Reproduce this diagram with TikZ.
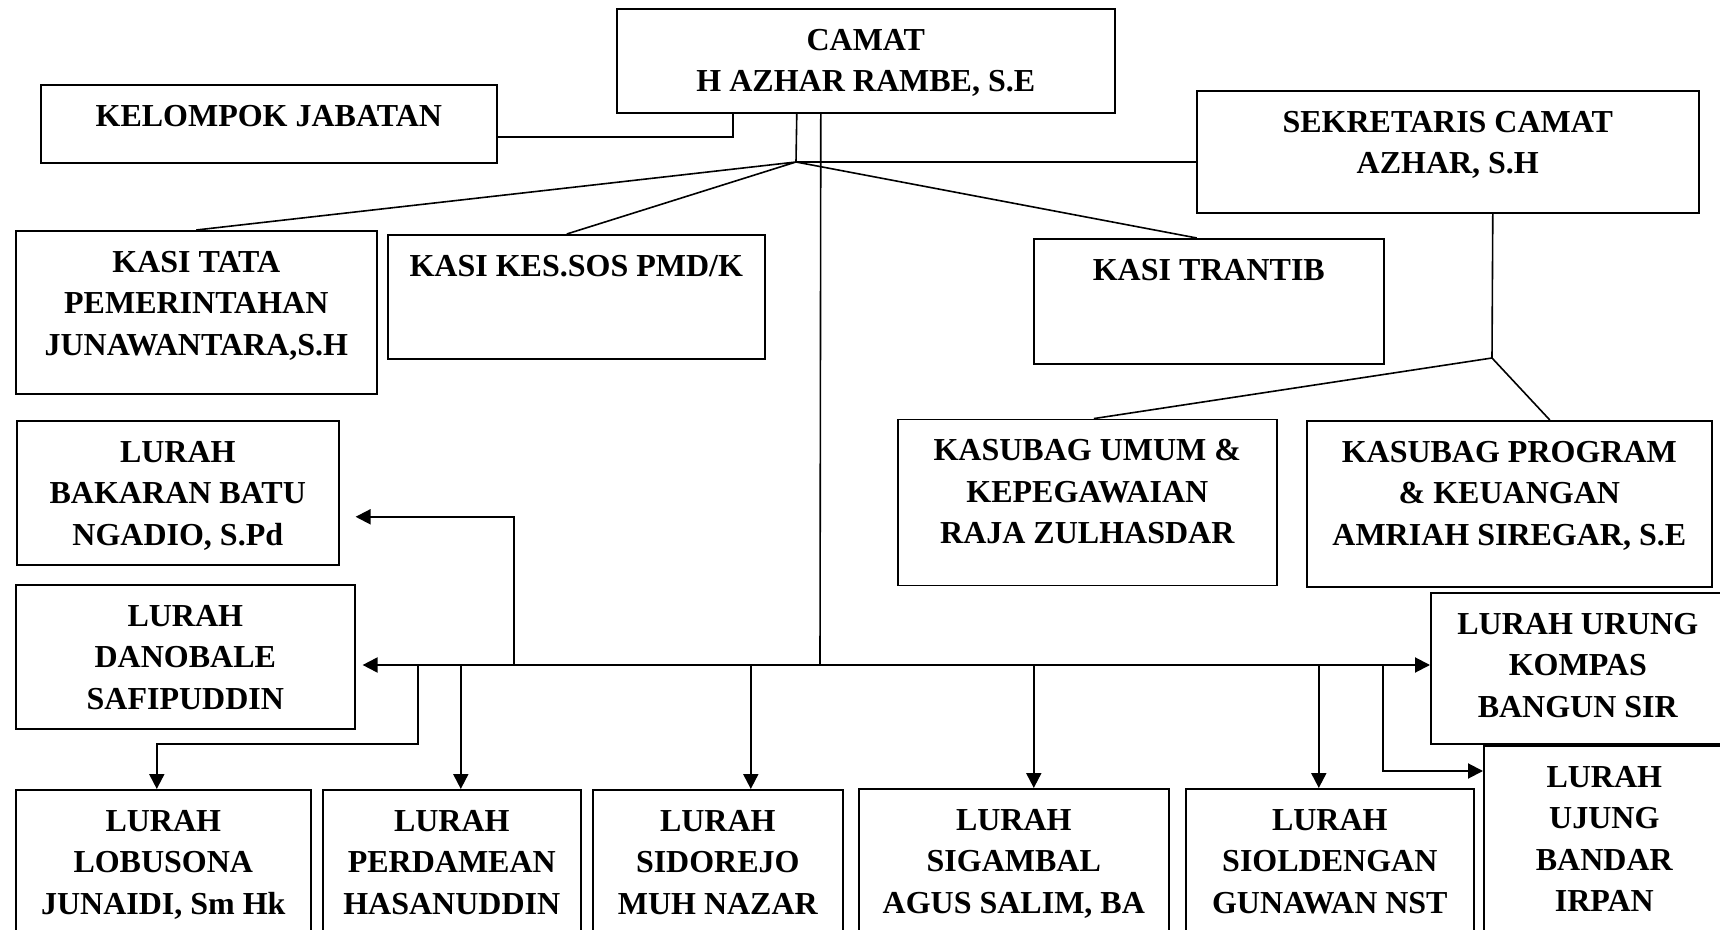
\documentclass[tikz,border=0pt]{standalone}
\usepackage{fontspec}
\setmainfont{Liberation Serif}
\usetikzlibrary{arrows.meta,positioning}

\tikzset{
  box/.style={draw,line width=0.8pt,anchor=north west,inner sep=0pt},
  boxtext/.style={anchor=north,yshift=-10.25pt,inner sep=0pt,align=center,
    font=\bfseries\fontsize{16}{20.75}\selectfont},
  link/.style={line width=0.8pt},
  arr/.style={line width=1pt,-{Triangle[length=7.5pt,width=7.5pt]}},
}

\begin{document}
\begin{tikzpicture}[x=1pt,y=-1pt]
  \useasboundingbox (0,0) rectangle (860,465);

  % pimpinan
  \node[box,minimum width=249pt,minimum height=52pt,label={[boxtext]north:{CAMAT\\H AZHAR RAMBE, S.E}}] (camat) at (308,4) {};
  \node[box,minimum width=228pt,minimum height=39pt,label={[boxtext]north:{KELOMPOK JABATAN}}] (kelompok) at (20,42) {};
  \node[box,minimum width=251pt,minimum height=61pt,label={[boxtext]north:{SEKRETARIS CAMAT\\AZHAR, S.H}}] (sekretaris) at (598,45) {};

  % kasi
  \node[box,minimum width=180.5pt,minimum height=81.5pt,label={[boxtext]north:{KASI TATA\\PEMERINTAHAN\\JUNAWANTARA,S.H}}] (kasitata) at (7.5,115) {};
  \node[box,minimum width=188.5pt,minimum height=62pt,label={[boxtext]north:{KASI KES.SOS PMD/K}}] (kasikes) at (193.5,117) {};
  \node[box,minimum width=175pt,minimum height=62.5pt,label={[boxtext]north:{KASI TRANTIB}}] (trantib) at (516.5,119) {};

  % kasubag
  \node[box,minimum width=189.5pt,minimum height=83pt,label={[boxtext]north:{KASUBAG UMUM \&\\KEPEGAWAIAN\\RAJA ZULHASDAR}}] (umum) at (448.5,209.3) {};
  \node[box,minimum width=202.5pt,minimum height=83pt,label={[boxtext]north:{KASUBAG PROGRAM\\\& KEUANGAN\\AMRIAH SIREGAR, S.E}}] (program) at (653,210) {};

  % lurah
  \node[box,minimum width=161pt,minimum height=72pt,label={[boxtext]north:{LURAH\\BAKARAN BATU\\NGADIO, S.Pd}}] (bakaran) at (8,210) {};
  \node[box,minimum width=169.5pt,minimum height=72pt,label={[boxtext]north:{LURAH\\DANOBALE\\SAFIPUDDIN}}] (danobale) at (7.5,292) {};
  \node[box,minimum width=147pt,minimum height=75.5pt,label={[boxtext]north:{LURAH URUNG\\KOMPAS\\BANGUN SIR}}] (urung) at (715,296) {};
  \node[box,minimum width=120.5pt,minimum height=100pt,label={[boxtext]north:{LURAH\\UJUNG\\BANDAR\\IRPAN}}] (ujung) at (741.5,372.5) {};
  \node[box,minimum width=147.5pt,minimum height=80pt,label={[boxtext]north:{LURAH\\LOBUSONA\\JUNAIDI, Sm Hk}}] (lobusona) at (7.5,394.5) {};
  \node[box,minimum width=129pt,minimum height=80pt,label={[boxtext]north:{LURAH\\PERDAMEAN\\HASANUDDIN}}] (perdamean) at (161,394.5) {};
  \node[box,minimum width=125pt,minimum height=80pt,label={[boxtext]north:{LURAH\\SIDOREJO\\MUH NAZAR}}] (sidorejo) at (296,394.5) {};
  \node[box,minimum width=155pt,minimum height=80pt,label={[boxtext]north:{LURAH\\SIGAMBAL\\AGUS SALIM, BA}}] (sigambal) at (429,394) {};
  \node[box,minimum width=144pt,minimum height=80pt,label={[boxtext]north:{LURAH\\SIOLDENGAN\\GUNAWAN NST}}] (sioldengan) at (592.5,394) {};

  % titik cabang
  \coordinate (fan) at (398,81);
  \coordinate (hub) at (410,332.5);
  \coordinate (sekhub) at (746,179);
  \coordinate (bk) at (257,332.5);
  \coordinate (lb) at (209,332.5);
  \coordinate (uj) at (691.5,332.5);

  % garis atas
  \draw[link] ([yshift=-6.5pt]kelompok.east) -| ([xshift=-66.5pt]camat.south);
  \draw[link] ([xshift=-34.5pt]camat.south) -- (fan);
  \draw[link] (kasitata.north) -- (fan) -- ([xshift=-4.75pt]kasikes.north);
  \draw[link] (fan) -- ([xshift=-6pt]trantib.north);
  \draw[link] (fan) -- (fan -| sekretaris.west);
  \draw[link] ([xshift=22.5pt]sekretaris.south) -- (sekhub);
  \draw[link] ([xshift=3.25pt]umum.north) -- (sekhub) -- ([xshift=20.25pt]program.north);
  \draw[link] ([xshift=-22.5pt]camat.south) -- (hub);

  % garis lurah
  \draw[arr] (hub) -- ([xshift=3.5pt]hub -| danobale.east);
  \draw[arr] (hub) -- (hub -| urung.west);
  \draw[arr] (bk) |- ([xshift=8pt,yshift=-12pt]bakaran.east);
  \draw[arr] (lb) -- ++(0,39.5) -| ([xshift=-3.25pt]lobusona.north);
  \draw[arr] ([xshift=4.5pt]perdamean.north |- hub) -- ([xshift=4.5pt]perdamean.north);
  \draw[arr] ([xshift=16.5pt]sidorejo.north |- hub) -- ([xshift=16.5pt]sidorejo.north);
  \draw[arr] ([xshift=10pt]sigambal.north |- hub) -- ([xshift=10pt]sigambal.north);
  \draw[arr] ([xshift=-5.5pt]sioldengan.north |- hub) -- ([xshift=-5.5pt]sioldengan.north);
  \draw[arr] (uj) |- ([yshift=-13pt]ujung.north west);
\end{tikzpicture}
\end{document}
